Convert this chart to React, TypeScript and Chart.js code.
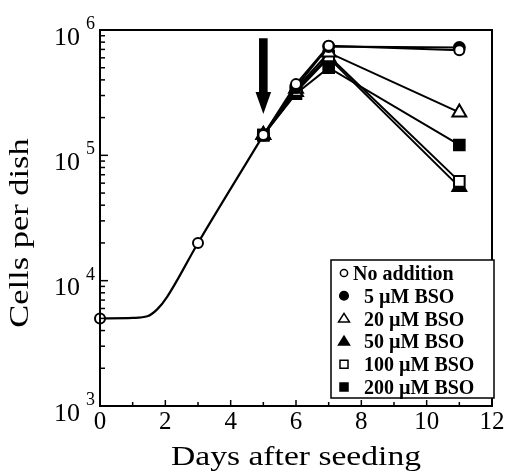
import React, { useEffect, useRef } from 'react';
import { Chart, registerables } from 'chart.js';

Chart.register(...registerables);

// ---- data ----
const growthCurveDays = [0, 1, 1.45, 1.75, 2.05, 3, 5];
const growthCurveCells = [5000, 5050, 5200, 5900, 7400, 20000, 145000];

const noAdditionDays = [0, 3, 5, 6, 7, 11];
const noAdditionCells = [5000, 20000, 145000, 370000, 750000, 690000];

const treatmentDays = [5, 6, 7, 11];
const bso5Cells = [145000, 350000, 740000, 725000];
const bso20Cells = [145000, 340000, 660000, 220000];
const bso50Cells = [145000, 320000, 600000, 56000];
const bso100Cells = [145000, 330000, 620000, 62000];
const bso200Cells = [145000, 310000, 500000, 121000];

const seriesLabels = ['No addition', '5 \u00b5M BSO', '20 \u00b5M BSO', '50 \u00b5M BSO', '100 \u00b5M BSO', '200 \u00b5M BSO'];
const legendStyles = ['circle', 'circle', 'triangle', 'triangle', 'rect', 'rect'];
const legendFilled = [false, true, false, true, false, true];

const xTickValues = [0, 2, 4, 6, 8, 10, 12];
const yTickExponents = [3, 4, 5, 6];

const arrowDay = 5;
const arrowTopCells = 860000;
const arrowTipCells = 214000;

const X_TITLE = 'Days after seeding';
const Y_TITLE = 'Cells per dish';

function drawMarker(ctx: CanvasRenderingContext2D, style: string, filled: boolean, x: number, y: number, r: number, lw: number) {
  ctx.beginPath();
  if (style === 'circle') {
    ctx.arc(x, y, r, 0, Math.PI * 2);
  } else if (style === 'triangle') {
    const h = r * 1.6;
    ctx.moveTo(x, y - h * 0.6);
    ctx.lineTo(x + r, y + h * 0.4);
    ctx.lineTo(x - r, y + h * 0.4);
    ctx.closePath();
  } else {
    ctx.rect(x - r, y - r, 2 * r, 2 * r);
  }
  ctx.fillStyle = filled ? '#000' : '#fff';
  ctx.fill();
  ctx.lineWidth = lw;
  ctx.strokeStyle = '#000';
  ctx.stroke();
}

const decorPlugin = {
  id: 'decor',
  afterDraw(chart: any) {
    const { ctx, chartArea: a } = chart;
    const xs = chart.scales.x;
    const ys = chart.scales.y;
    ctx.save();
    ctx.fillStyle = '#000';
    ctx.strokeStyle = '#000';

    // frame
    ctx.lineWidth = 2;
    ctx.strokeRect(a.left, a.top, a.right - a.left, a.bottom - a.top);

    // y ticks (inward)
    ctx.lineWidth = 1.5;
    for (let e = 3; e < 6; e++) {
      for (let m = 1; m <= 9; m++) {
        const py = ys.getPixelForValue(m * Math.pow(10, e));
        const len = m === 1 ? 8 : 5;
        ctx.beginPath();
        ctx.moveTo(a.left, py);
        ctx.lineTo(a.left + len, py);
        ctx.stroke();
      }
    }
    // x ticks (inward)
    for (let d = 1; d < 12; d++) {
      const px = xs.getPixelForValue(d);
      const len = d % 2 === 0 ? 6 : 4;
      ctx.beginPath();
      ctx.moveTo(px, a.bottom);
      ctx.lineTo(px, a.bottom - len);
      ctx.stroke();
    }

    // x tick labels
    ctx.font = '25px "Liberation Serif", "Times New Roman", serif';
    ctx.textAlign = 'center';
    ctx.textBaseline = 'alphabetic';
    xTickValues.forEach((v) => {
      ctx.fillText(String(v), xs.getPixelForValue(v), a.bottom + 23);
    });

    // y tick labels 10^n
    yTickExponents.forEach((e) => {
      const py = ys.getPixelForValue(Math.pow(10, e));
      ctx.font = '26px "Liberation Serif", "Times New Roman", serif';
      ctx.textAlign = 'right';
      ctx.fillText('10', a.left - 20, py + 14.5);
      ctx.font = '18px "Liberation Serif", "Times New Roman", serif';
      ctx.textAlign = 'left';
      ctx.fillText(String(e), a.left - 14, py - 1);
    });

    // axis titles
    ctx.font = '28px "Liberation Serif", "Times New Roman", serif';
    ctx.textAlign = 'center';
    ctx.save();
    ctx.translate((a.left + a.right) / 2, a.bottom + 59);
    ctx.scale(1.2, 1);
    ctx.fillText(X_TITLE, 0, 0);
    ctx.restore();

    ctx.save();
    ctx.translate(28, (a.top + a.bottom) / 2 + 15);
    ctx.rotate(-Math.PI / 2);
    ctx.scale(1.23, 1);
    ctx.fillText(Y_TITLE, 0, 0);
    ctx.restore();

    // arrow
    const ax = xs.getPixelForValue(arrowDay);
    const ay0 = ys.getPixelForValue(arrowTopCells);
    const ay1 = ys.getPixelForValue(arrowTipCells);
    const headLen = 22;
    ctx.beginPath();
    ctx.moveTo(ax - 4.3, ay0);
    ctx.lineTo(ax + 4.3, ay0);
    ctx.lineTo(ax + 4.3, ay1 - headLen);
    ctx.lineTo(ax + 7.8, ay1 - headLen);
    ctx.lineTo(ax, ay1);
    ctx.lineTo(ax - 7.8, ay1 - headLen);
    ctx.lineTo(ax - 4.3, ay1 - headLen);
    ctx.closePath();
    ctx.fill();

    // legend
    const lx = 331, ly = 260, lw = 163, lh = 138;
    ctx.fillStyle = '#fff';
    ctx.fillRect(lx, ly, lw, lh);
    ctx.lineWidth = 1.5;
    ctx.strokeStyle = '#000';
    ctx.strokeRect(lx, ly, lw, lh);
    ctx.font = 'bold 20px "Liberation Serif", "Times New Roman", serif';
    ctx.textAlign = 'left';
    seriesLabels.forEach((label, i) => {
      const cy = 273 + i * 22.8;
      const st = legendStyles[i];
      const r = st === 'circle' ? (legendFilled[i] ? 4.3 : 3.6) : st === 'triangle' ? 5.5 : 4;
      drawMarker(ctx, st, legendFilled[i], 344, cy, r, 1.5);
      ctx.fillStyle = '#000';
      ctx.fillText(label, i === 0 ? 353 : 364, cy + 7);
    });

    ctx.restore();
  },
};

function pts(days: number[], cells: number[]) {
  return days.map((d, i) => ({ x: d, y: cells[i] }));
}

function series(label: string, days: number[], cells: number[], style: string, filled: boolean, radius: number) {
  return {
    label,
    data: pts(days, cells),
    borderColor: '#000',
    borderWidth: 2,
    pointStyle: style,
    pointRadius: radius,
    pointBackgroundColor: filled ? '#000' : '#fff',
    pointBorderColor: '#000',
    pointBorderWidth: 2,
    tension: 0,
    fill: false,
    clip: false,
  };
}

export default function App() {
  const canvasRef = useRef<HTMLCanvasElement | null>(null);

  useEffect(() => {
    if (!canvasRef.current) return;
    const noAdd: any = series(seriesLabels[0], noAdditionDays, noAdditionCells, 'circle', false, 5);
    noAdd.segment = {
      borderColor: (c: any) => (c.p0.parsed.x < 5 ? 'rgba(0,0,0,0)' : '#000'),
    };
    const chart = new Chart(canvasRef.current, {
      type: 'line',
      data: {
        datasets: [
          noAdd,
          series(seriesLabels[1], treatmentDays, bso5Cells, 'circle', true, 5.5),
          series(seriesLabels[2], treatmentDays, bso20Cells, 'triangle', false, 8),
          series(seriesLabels[4], treatmentDays, bso100Cells, 'rect', false, 7.5),
          series(seriesLabels[3], treatmentDays, bso50Cells, 'triangle', true, 8),
          series(seriesLabels[5], treatmentDays, bso200Cells, 'rect', true, 7.5),
          {
            label: 'growth curve',
            data: pts(growthCurveDays, growthCurveCells),
            borderColor: '#000',
            borderWidth: 2.2,
            pointRadius: 0,
            cubicInterpolationMode: 'monotone',
            fill: false,
            clip: false,
          } as any,
        ],
      },
      options: {
        responsive: false,
        animation: false,
        devicePixelRatio: 1,
        events: [],
        layout: { padding: { left: 100, right: 22, top: 30, bottom: 67 } },
        scales: {
          x: { type: 'linear', min: 0, max: 12, display: false },
          y: { type: 'logarithmic', min: 1000, max: 1000000, display: false },
        },
        plugins: {
          legend: { display: false },
          tooltip: { enabled: false },
        },
      },
      plugins: [decorPlugin],
    } as any);
    return () => chart.destroy();
  }, []);

  return (
    <div style={{ position: 'fixed', left: 0, top: 0, width: 514, height: 473, background: '#fff' }}>
      <canvas ref={canvasRef} width={514} height={473} style={{ display: 'block' }} />
    </div>
  );
}
